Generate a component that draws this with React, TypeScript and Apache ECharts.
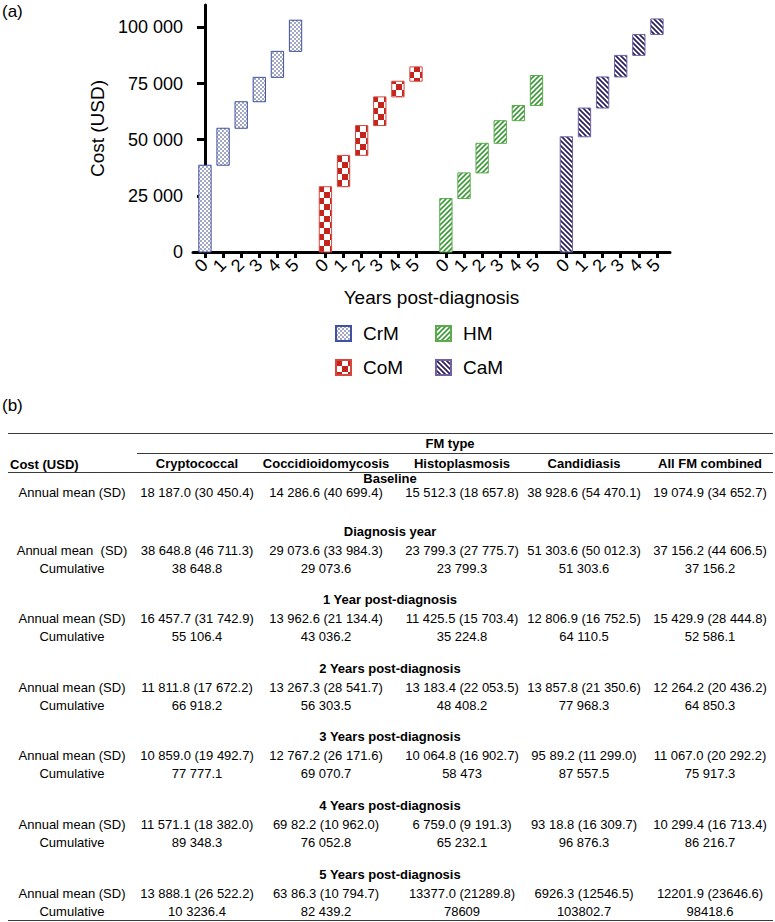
import React, { useEffect, useRef } from 'react';
import * as echarts from 'echarts';

// ---------- Chart (a) data ----------
const fungalGroups = ['CrM', 'CoM', 'HM', 'CaM'];
const yearLabels = ['0', '1', '2', '3', '4', '5'];
const cumulativeCrM = [38648.8, 55106.4, 66918.2, 77777.1, 89348.3, 103236.4];
const cumulativeCoM = [29073.6, 43036.2, 56303.5, 69070.7, 76052.8, 82439.2];
const cumulativeHM = [23799.3, 35224.8, 48408.2, 58473, 65232.1, 78609];
const cumulativeCaM = [51303.6, 64110.5, 77968.3, 87557.5, 96876.3, 103802.7];
const yAxisTicks = [0, 25000, 50000, 75000, 100000];

// ---------- Table (b) data ----------
const tableColumnHeaders = ['Cryptococcal', 'Coccidioidomycosis', 'Histoplasmosis', 'Candidiasis', 'All FM combined'];
const tableSectionTitles = ['Baseline', 'Diagnosis year', '1 Year post-diagnosis', '2 Years post-diagnosis', '3 Years post-diagnosis', '4 Years post-diagnosis', '5 Years post-diagnosis'];
const annualRowLabels = ['Annual mean (SD)', 'Annual mean  (SD)', 'Annual mean (SD)', 'Annual mean (SD)', 'Annual mean (SD)', 'Annual mean (SD)', 'Annual mean (SD)'];
const annualBaseline = ['18 187.0 (30 450.4)', '14 286.6 (40 699.4)', '15 512.3 (18 657.8)', '38 928.6 (54 470.1)', '19 074.9 (34 652.7)'];
const annualDiagnosis = ['38 648.8 (46 711.3)', '29 073.6 (33 984.3)', '23 799.3 (27 775.7)', '51 303.6 (50 012.3)', '37 156.2 (44 606.5)'];
const annualYear1 = ['16 457.7 (31 742.9)', '13 962.6 (21 134.4)', '11 425.5 (15 703.4)', '12 806.9 (16 752.5)', '15 429.9 (28 444.8)'];
const annualYear2 = ['11 811.8 (17 672.2)', '13 267.3 (28 541.7)', '13 183.4 (22 053.5)', '13 857.8 (21 350.6)', '12 264.2 (20 436.2)'];
const annualYear3 = ['10 859.0 (19 492.7)', '12 767.2 (26 171.6)', '10 064.8 (16 902.7)', '95 89.2 (11 299.0)', '11 067.0 (20 292.2)'];
const annualYear4 = ['11 571.1 (18 382.0)', '69 82.2 (10 962.0)', '6 759.0 (9 191.3)', '93 18.8 (16 309.7)', '10 299.4 (16 713.4)'];
const annualYear5 = ['13 888.1 (26 522.2)', '63 86.3 (10 794.7)', '13377.0 (21289.8)', '6926.3 (12546.5)', '12201.9 (23646.6)'];
const cumulativeDiagnosis = ['38 648.8', '29 073.6', '23 799.3', '51 303.6', '37 156.2'];
const cumulativeYear1 = ['55 106.4', '43 036.2', '35 224.8', '64 110.5', '52 586.1'];
const cumulativeYear2 = ['66 918.2', '56 303.5', '48 408.2', '77 968.3', '64 850.3'];
const cumulativeYear3 = ['77 777.1', '69 070.7', '58 473', '87 557.5', '75 917.3'];
const cumulativeYear4 = ['89 348.3', '76 052.8', '65 232.1', '96 876.3', '86 216.7'];
const cumulativeYear5 = ['10 3236.4', '82 439.2', '78609', '103802.7', '98418.6'];

const FONT = '"Liberation Sans", Arial, Helvetica, sans-serif';
const GROUP_STEP = 6.65;
const BAR_FRAC = 0.68;

function makeTile(kind: string): HTMLCanvasElement {
  const c = document.createElement('canvas');
  const size = kind === 'checker' ? 12 : kind === 'dots' ? 4 : 5;
  c.width = size;
  c.height = size;
  const ctx = c.getContext('2d')!;
  ctx.fillStyle = '#ffffff';
  ctx.fillRect(0, 0, size, size);
  if (kind === 'dots') {
    ctx.fillStyle = '#1a2470';
    ctx.beginPath();
    ctx.arc(1, 1, 0.72, 0, Math.PI * 2);
    ctx.fill();
    ctx.beginPath();
    ctx.arc(3, 3, 0.72, 0, Math.PI * 2);
    ctx.fill();
  } else if (kind === 'checker') {
    ctx.fillStyle = '#c4241b';
    ctx.fillRect(0, 0, 6, 6);
    ctx.fillRect(6, 6, 6, 6);
  } else if (kind === 'fwd') {
    ctx.strokeStyle = '#3b9a38';
    ctx.lineWidth = 1.6;
    for (const o of [-5, 0, 5]) {
      ctx.beginPath();
      ctx.moveTo(o - 1, 6);
      ctx.lineTo(o + 6, -1);
      ctx.stroke();
    }
  } else {
    ctx.strokeStyle = '#2a1f5e';
    ctx.lineWidth = 1.7;
    for (const o of [-5, 0, 5]) {
      ctx.beginPath();
      ctx.moveTo(o - 1, -1);
      ctx.lineTo(o + 6, 6);
      ctx.stroke();
    }
  }
  return c;
}

function fmtThousands(v: number): string {
  return String(Math.round(v)).replace(/\B(?=(\d{3})+(?!\d))/g, ' ');
}

export default function App() {
  const ref = useRef<HTMLDivElement>(null);

  useEffect(() => {
    if (!ref.current) return;
    const chart = echarts.init(ref.current, undefined, { renderer: 'svg' });

    const cumulativeByGroup = [cumulativeCrM, cumulativeCoM, cumulativeHM, cumulativeCaM];
    const tileKinds = ['dots', 'checker', 'fwd', 'back'];
    const borderColors = ['#3f51a0', '#d4483e', '#5aab4c', '#6f61a3'];
    const patterns = tileKinds.map((k) => {
      const t = makeTile(k);
      return { image: t, repeat: 'repeat', imageWidth: t.width, imageHeight: t.height } as any;
    });

    const xPositions: number[] = [];
    const xLabelMap: Record<string, string> = {};
    fungalGroups.forEach((_, g) => {
      yearLabels.forEach((lab, k) => {
        const x = +(g * GROUP_STEP + k).toFixed(2);
        xPositions.push(x);
        xLabelMap[x.toFixed(2)] = lab;
      });
    });

    const series = fungalGroups.map((name, g) => {
      const cum = cumulativeByGroup[g];
      const data = cum.map((v, k) => [+(g * GROUP_STEP + k).toFixed(2), k === 0 ? 0 : cum[k - 1], v]);
      return {
        name,
        type: 'custom',
        itemStyle: { color: patterns[g], borderColor: borderColors[g], borderWidth: 1 },
        encode: { x: 0, y: [1, 2] },
        data,
        renderItem: (params: any, api: any) => {
          const x = api.value(0);
          const lo = api.value(1);
          const hi = api.value(2);
          const p0 = api.coord([x, lo]);
          const p1 = api.coord([x, hi]);
          const w = api.size([BAR_FRAC, 0])[0];
          return {
            type: 'rect',
            shape: { x: p0[0] - w / 2, y: p1[1], width: w, height: p0[1] - p1[1] },
            style: { fill: patterns[g], stroke: borderColors[g], lineWidth: 1 },
          };
        },
      };
    });

    // ---------- table graphics ----------
    const graphics: any[] = [];
    const text = (t: string, x: number, y: number, size: number, bold: boolean, align: string) => ({
      type: 'text',
      x,
      y,
      silent: true,
      style: {
        text: t,
        fill: '#000',
        fontSize: size,
        fontFamily: FONT,
        fontWeight: bold ? 'bold' : 'normal',
        align,
        verticalAlign: 'middle',
      },
    });
    const hline = (x1: number, x2: number, y: number) => ({
      type: 'line',
      silent: true,
      shape: { x1, y1: y, x2, y2: y },
      style: { stroke: '#3a3a3a', lineWidth: 1 },
    });

    graphics.push(text('(a)', 2, 11, 17, false, 'left'));
    graphics.push(text('(b)', 2, 405, 17, false, 'left'));

    const colX = [197, 326, 462, 584, 710];
    const labelX = 72;
    const TS = 13;
    graphics.push(hline(8, 773, 433.5));
    graphics.push(hline(137, 773, 453.5));
    graphics.push(hline(8, 773, 472.5));
    graphics.push(hline(8, 773, 920.5));
    graphics.push(text('FM type', 450, 443, TS, true, 'center'));
    graphics.push(text('Cost (USD)', 10, 464, TS, true, 'left'));
    tableColumnHeaders.forEach((h, i) => graphics.push(text(h, colX[i], 463.5, TS, true, 'center')));

    const annualBySection = [annualBaseline, annualDiagnosis, annualYear1, annualYear2, annualYear3, annualYear4, annualYear5];
    const cumulativeBySection = [null, cumulativeDiagnosis, cumulativeYear1, cumulativeYear2, cumulativeYear3, cumulativeYear4, cumulativeYear5];
    tableSectionTitles.forEach((title, s) => {
      const ty = s === 0 ? 478.5 : 531 + (s - 1) * 68.6;
      const ay = s === 0 ? 492.5 : ty + 19;
      const cy = ty + 37;
      graphics.push(text(title, 390, ty, TS, true, 'center'));
      graphics.push(text(annualRowLabels[s], labelX, ay, TS, false, 'center'));
      annualBySection[s].forEach((v, i) => graphics.push(text(v, colX[i], ay, TS, false, 'center')));
      const cums = cumulativeBySection[s];
      if (cums) {
        graphics.push(text('Cumulative', labelX, cy, TS, false, 'center'));
        cums.forEach((v, i) => graphics.push(text(v, colX[i], cy, TS, false, 'center')));
      }
    });

    const legendCommon = {
      orient: 'vertical',
      icon: 'rect',
      itemWidth: 15,
      itemHeight: 15,
      itemGap: 15,
      padding: 0,
      selectedMode: false,
      textStyle: { fontSize: 19, color: '#000', fontFamily: FONT, padding: [0, 0, 0, 7] },
    };

    chart.setOption({
      animation: false,
      backgroundColor: '#fff',
      textStyle: { fontFamily: FONT },
      grid: { left: 193, right: 105, top: 5, bottom: 922 - 252, outerBoundsMode: 'none' } as any,
      xAxis: {
        type: 'value',
        min: -0.66,
        max: 3 * GROUP_STEP + 5 + 0.72,
        splitLine: { show: false },
        axisLine: { show: true, onZero: false, lineStyle: { color: '#000', width: 3 } },
        axisTick: { show: true, customValues: xPositions, length: 6, lineStyle: { color: '#000', width: 3 } },
        axisLabel: {
          customValues: xPositions,
          formatter: (v: number) => xLabelMap[v.toFixed(2)] ?? '',
          rotate: 45,
          fontSize: 18,
          color: '#000',
          margin: 10,
        },
        name: 'Years post-diagnosis',
        nameLocation: 'middle',
        nameGap: 36,
        nameTextStyle: { fontSize: 19, color: '#000' },
      },
      yAxis: {
        type: 'value',
        min: 0,
        max: 110000,
        splitLine: { show: false },
        axisLine: { show: true, lineStyle: { color: '#000', width: 3 } },
        axisTick: { show: true, customValues: yAxisTicks, length: 8, lineStyle: { color: '#000', width: 3 } },
        axisLabel: {
          customValues: yAxisTicks,
          formatter: (v: number) => fmtThousands(v),
          fontSize: 18,
          color: '#000',
          margin: 10,
        },
        name: 'Cost (USD)',
        nameLocation: 'middle',
        nameGap: 74,
        nameTextStyle: { fontSize: 19, color: '#000' },
      },
      legend: [
        { ...legendCommon, data: ['CrM', 'CoM'], left: 335, top: 324 },
        { ...legendCommon, data: ['HM', 'CaM'], left: 435, top: 324 },
      ],
      series,
      graphic: graphics,
    } as any);

    return () => chart.dispose();
  }, []);

  return <div ref={ref} style={{ position: 'absolute', left: 0, top: 0, width: 775, height: 922 }} />;
}
